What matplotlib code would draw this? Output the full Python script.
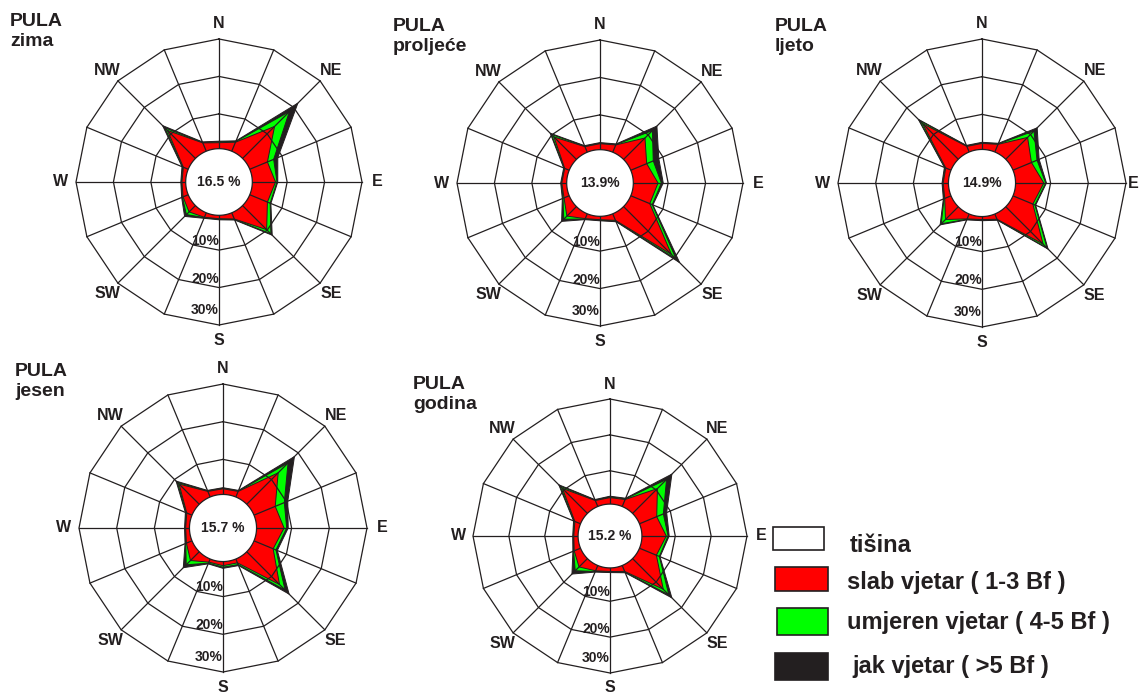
import numpy as np
import matplotlib.pyplot as plt
from matplotlib.patches import Rectangle

plt.rcParams['font.family'] = ['Liberation Sans', 'DejaVu Sans']
plt.rcParams['font.weight'] = 'bold'

# 16 wind directions, clockwise from north
directions = ['N', 'NNE', 'NE', 'ENE', 'E', 'ESE', 'SE', 'SSE',
              'S', 'SSW', 'SW', 'WSW', 'W', 'WNW', 'NW', 'NNW']
compass_labels = ['N', 'NE', 'E', 'SE', 'S', 'SW', 'W', 'NW']
ring_values = [10, 20, 30]
ring_labels = ['10%', '20%', '30%']

seasons = ['zima', 'proljeće', 'ljeto', 'jesen', 'godina']
calm_labels = ['16.5 %', '13.9%', '14.9%', '15.7 %', '15.2 %']

# frequencies in % : slab (1-3 Bf), umjeren (4-5 Bf), jak (>5 Bf)
zima_slab = [2.3, 3.3, 12.8, 5.8, 6.9, 5.8, 9.8, 2.5, 1.6, 2.0, 3.1, 2.2, 1.7, 2.1, 11.3, 3.1]
zima_umjeren = [0.2, 0.2, 5.6, 1.8, 0.4, 0.8, 1.6, 0.1, 0.1, 0.1, 1.0, 0.2, 0.1, 0.2, 1.0, 0.1]
zima_jak = [0.2, 0.2, 3.2, 1.2, 0.2, 0.2, 0.5, 0.2, 0.2, 0.2, 0.7, 0.2, 0.2, 0.2, 0.8, 0.2]

proljece_slab = [2.3, 2.8, 8.8, 5.3, 7.3, 6.2, 18.8, 2.6, 1.6, 2.1, 4.3, 2.2, 2.0, 2.0, 9.2, 2.3]
proljece_umjeren = [0.1, 0.1, 2.8, 1.9, 0.9, 0.7, 1.8, 0.2, 0.1, 0.1, 1.2, 0.3, 0.1, 0.1, 1.0, 0.1]
proljece_jak = [0.2, 0.2, 1.7, 1.6, 0.5, 0.2, 1.3, 0.2, 0.2, 0.2, 0.8, 0.2, 0.2, 0.2, 0.4, 0.2]

ljeto_slab = [2.3, 2.9, 8.9, 6.0, 8.2, 6.4, 14.7, 2.2, 1.5, 2.1, 5.5, 2.5, 2.1, 2.2, 14.1, 2.3]
ljeto_umjeren = [0.1, 0.1, 2.4, 1.6, 0.5, 0.6, 1.5, 0.1, 0.1, 0.1, 1.6, 0.2, 0.1, 0.2, 1.2, 0.1]
ljeto_jak = [0.2, 0.2, 1.2, 0.6, 0.2, 0.2, 0.4, 0.2, 0.2, 0.2, 0.4, 0.2, 0.2, 0.2, 0.4, 0.2]

jesen_slab = [2.2, 2.3, 12.5, 6.8, 8.0, 6.2, 13.0, 1.8, 1.8, 1.6, 4.0, 2.3, 1.7, 2.2, 8.3, 2.3]
jesen_umjeren = [0.1, 0.1, 3.7, 2.6, 0.7, 0.8, 2.1, 0.5, 0.4, 0.3, 1.6, 0.2, 0.1, 0.2, 0.6, 0.1]
jesen_jak = [0.2, 0.2, 2.4, 1.0, 0.4, 0.4, 1.5, 0.3, 0.3, 0.2, 1.1, 0.2, 0.2, 0.2, 0.5, 0.2]

godina_slab = [2.5, 2.8, 10.5, 5.9, 7.5, 5.8, 12.8, 2.5, 1.7, 2.3, 4.0, 2.6, 1.9, 2.4, 10.6, 2.5]
godina_umjeren = [0.2, 0.2, 3.6, 2.0, 0.5, 0.9, 2.2, 0.2, 0.1, 0.2, 1.5, 0.2, 0.1, 0.2, 0.9, 0.1]
godina_jak = [0.2, 0.2, 2.1, 1.0, 0.3, 0.2, 1.2, 0.2, 0.2, 0.2, 1.3, 0.2, 0.2, 0.2, 0.5, 0.2]

legend_labels = ['tišina', 'slab vjetar ( 1-3 Bf )', 'umjeren vjetar ( 4-5 Bf )', 'jak vjetar ( >5 Bf )']

RED = '#ff0000'
GREEN = '#00ff00'
DARK = '#231f20'

W, H = 1140, 693
fig = plt.figure(figsize=(W / 100, H / 100), dpi=100)

R0 = 8.2        # radius of the calm circle offset, in % units
CALM_R = 8.9
RMAX = R0 + 30


def px(x, y):
    return x / W, 1 - y / H


def draw_rose(cx, cy, R, slab, umjeren, jak, calm_txt, edge_e=False):
    ax = fig.add_axes([(cx - R) / W, (H - cy - R) / H, 2 * R / W, 2 * R / H], projection='polar')
    ax.set_theta_zero_location('N')
    ax.set_theta_direction(-1)
    ax.set_ylim(0, RMAX)
    ax.set_axis_off()

    th = np.deg2rad(np.arange(len(directions)) * 22.5)
    thc = np.append(th, th[0])
    s = np.array(slab)
    u = np.array(umjeren)
    j = np.array(jak)

    # stacked layers: total first, then cover with lower classes
    for vals, col, z in [(s + u + j, DARK, 1), (s + u, GREEN, 2), (s, RED, 3)]:
        r = np.append(vals, vals[0]) + R0
        ax.fill(thc, r, facecolor=col, edgecolor=DARK, lw=0.7, zorder=z, clip_on=False)

    # polygonal grid
    for k in ring_values:
        ax.plot(thc, np.full(len(thc), R0 + k), color=DARK, lw=0.9, zorder=4, clip_on=False)
    for t in th:
        ax.plot([t, t], [0, RMAX], color=DARK, lw=0.9, zorder=4, clip_on=False)

    circ = np.linspace(0, 2 * np.pi, 200)
    ax.fill(circ, np.full(200, CALM_R), facecolor='white', edgecolor=DARK, lw=0.9, zorder=5)
    ax.text(0, 0, calm_txt, ha='center', va='center', fontsize=10, color=DARK, zorder=6)

    for i, lab in enumerate(compass_labels):
        rr, ha = RMAX + 4.1, 'center'
        if lab == 'E' and edge_e:
            rr, ha = RMAX + 3.4, 'right'
        ax.text(np.deg2rad(i * 45), rr, lab, ha=ha, va='center',
                fontsize=11.5, color=DARK)
    for k, lab, off in zip(ring_values, ring_labels, [2.5, 2.4, 4.1]):
        ax.text(np.pi, R0 + k - off, lab, ha='right', va='center', fontsize=10,
                color=DARK, zorder=6)
    return ax


panels = [
    (zima_slab, zima_umjeren, zima_jak, 219, 182, 143, 10, 13),
    (proljece_slab, proljece_umjeren, proljece_jak, 600, 183, 143, 393, 18),
    (ljeto_slab, ljeto_umjeren, ljeto_jak, 982, 183, 144, 775, 18),
    (jesen_slab, jesen_umjeren, jesen_jak, 223, 528, 144, 15, 363),
    (godina_slab, godina_umjeren, godina_jak, 610, 536, 137, 413, 376),
]

for (sl, um, jk, cx, cy, R, tx, ty), season, calm_txt in zip(panels, seasons, calm_labels):
    draw_rose(cx, cy, R, sl, um, jk, calm_txt, edge_e=(cx + R > W - 20))
    fig.text(*px(tx, ty), 'PULA\n' + season, ha='left', va='top', fontsize=14,
             color=DARK, linespacing=1.2)

# legend
legend_boxes = [((773, 527, 51, 23), 'white'), ((775, 567, 53, 24), RED),
                ((777, 608, 51, 27), GREEN), ((775, 653, 53, 27), DARK)]
legend_text_pos = [(850, 545), (847, 582), (847, 623), (852, 667)]
for ((x, y, w, h), col), lab, (lx, ly) in zip(legend_boxes, legend_labels, legend_text_pos):
    fig.add_artist(Rectangle(px(x, y + h), w / W, h / H, transform=fig.transFigure,
                             facecolor=col, edgecolor=DARK, lw=1.2))
    fig.text(*px(lx, ly), lab, ha='left', va='center', fontsize=17, color=DARK)

fig.savefig('out.png', dpi=100, facecolor='white')
